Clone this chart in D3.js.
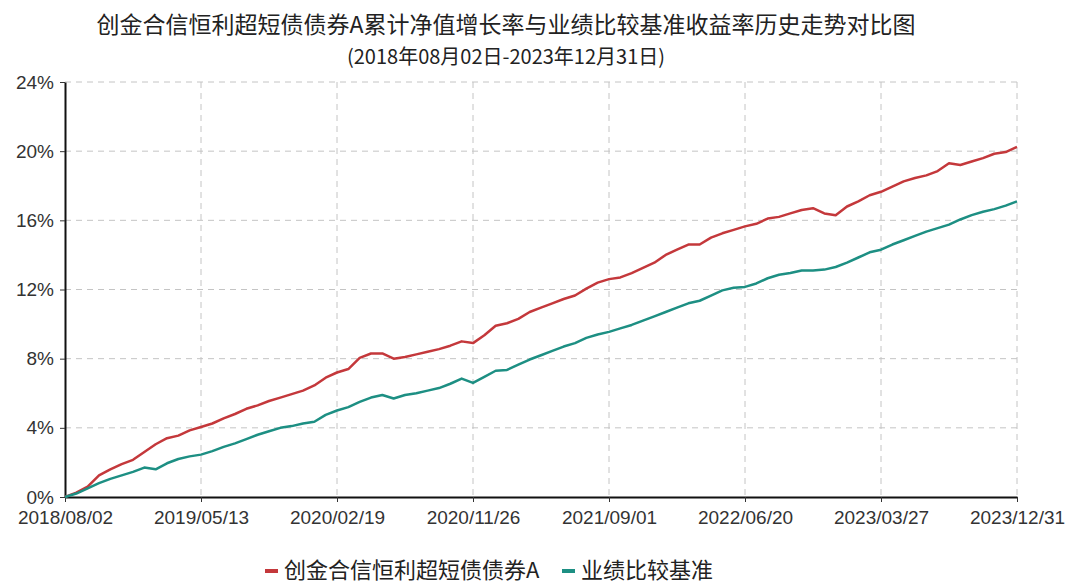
<!DOCTYPE html>
<html>
<head>
<meta charset="utf-8">
<script src="https://cdn.jsdelivr.net/npm/d3@7"></script>
<style>
  body { margin: 0; background: #fff; }
  text { font-family: "Liberation Sans", Arial, sans-serif; }
  .cjk { font-family: "Noto Sans CJK SC", sans-serif; }
</style>
</head>
<body>
<div class="canvas"></div>
<script>
// sample dates (roughly evenly spaced trading days)
const dates = [
  '2018/08/02','2018/08/24','2018/09/18','2018/10/12','2018/11/05','2018/11/28','2018/12/21','2019/01/15','2019/02/11','2019/03/04','2019/03/27','2019/04/19',
  '2019/05/13','2019/06/05','2019/06/28','2019/07/22','2019/08/14','2019/09/06','2019/09/30','2019/10/23','2019/11/15','2019/12/09','2020/01/02','2020/01/23',
  '2020/02/19','2020/03/13','2020/04/07','2020/04/30','2020/05/25','2020/06/17','2020/07/10','2020/08/03','2020/08/26','2020/09/18','2020/10/12','2020/11/03',
  '2020/11/26','2020/12/18','2021/01/11','2021/02/03','2021/02/26','2021/03/22','2021/04/14','2021/05/07','2021/05/31','2021/06/23','2021/07/16','2021/08/09',
  '2021/09/01','2021/09/24','2021/10/20','2021/11/12','2021/12/07','2021/12/31','2022/01/24','2022/02/17','2022/03/14','2022/04/07','2022/05/05','2022/05/26',
  '2022/06/20','2022/07/13','2022/08/05','2022/08/29','2022/09/21','2022/10/14','2022/11/07','2022/11/30','2022/12/23','2023/01/16','2023/02/08','2023/03/03',
  '2023/03/27','2023/04/19','2023/05/12','2023/06/05','2023/06/28','2023/07/21','2023/08/14','2023/09/06','2023/09/28','2023/10/23','2023/11/15','2023/12/07',
  '2023/12/31'
];

// cumulative NAV growth of the fund (%)
const fund = [
  0.00, 0.25, 0.60, 1.25, 1.60, 1.90, 2.15, 2.60, 3.05, 3.40, 3.55, 3.85,
  4.05, 4.25, 4.55, 4.80, 5.10, 5.30, 5.55, 5.75, 5.95, 6.15, 6.45, 6.90,
  7.20, 7.40, 8.05, 8.30, 8.30, 8.00, 8.10, 8.25, 8.40, 8.55, 8.75, 9.00,
  8.90, 9.35, 9.90, 10.05, 10.30, 10.70, 10.95, 11.20, 11.45, 11.65, 12.05, 12.40,
  12.60, 12.70, 12.95, 13.25, 13.55, 14.00, 14.30, 14.60, 14.60, 15.00, 15.25, 15.45,
  15.65, 15.80, 16.10, 16.20, 16.40, 16.60, 16.70, 16.40, 16.30, 16.80, 17.10, 17.45,
  17.65, 17.95, 18.25, 18.45, 18.60, 18.85, 19.30, 19.20, 19.40, 19.60, 19.85, 19.95,
  20.25
];

// benchmark return (%)
const bench = [
  0.00, 0.20, 0.50, 0.80, 1.05, 1.25, 1.45, 1.70, 1.60, 1.95, 2.20, 2.35,
  2.45, 2.65, 2.90, 3.10, 3.35, 3.60, 3.80, 4.00, 4.10, 4.25, 4.35, 4.75,
  5.00, 5.20, 5.50, 5.75, 5.90, 5.70, 5.90, 6.00, 6.15, 6.30, 6.55, 6.85,
  6.60, 6.95, 7.30, 7.35, 7.65, 7.95, 8.20, 8.45, 8.70, 8.90, 9.20, 9.40,
  9.55, 9.75, 9.95, 10.20, 10.45, 10.70, 10.95, 11.20, 11.35, 11.65, 11.95, 12.10,
  12.15, 12.35, 12.65, 12.85, 12.95, 13.10, 13.10, 13.15, 13.30, 13.55, 13.85, 14.15,
  14.30, 14.60, 14.85, 15.10, 15.35, 15.55, 15.75, 16.05, 16.30, 16.50, 16.65, 16.85,
  17.10
];

const xTicks = ['2018/08/02','2019/05/13','2020/02/19','2020/11/26','2021/09/01','2022/06/20','2023/03/27','2023/12/31'];
const yTicks = [0, 4, 8, 12, 16, 20, 24];

const title = '创金合信恒利超短债债券A累计净值增长率与业绩比较基准收益率历史走势对比图';
const subtitle = '(2018年08月02日-2023年12月31日)';
const seriesNames = ['创金合信恒利超短债债券A', '业绩比较基准'];
const colors = ['#c4383b', '#1d8f83'];

const width = 1069, height = 586;
const margin = { top: 82, right: 52, bottom: 89, left: 65 };
const graphWidth = width - margin.left - margin.right;
const graphHeight = height - margin.top - margin.bottom;

const svg = d3.select('.canvas')
    .append('svg')
    .attr('width', width)
    .attr('height', height);

const graph = svg.append('g')
    .attr('transform', `translate(${margin.left}, ${margin.top})`);

const x = d3.scalePoint()
    .domain(dates)
    .range([0, graphWidth]);

const y = d3.scaleLinear()
    .domain([0, 24])
    .range([graphHeight, 0]);

// grid
graph.append('g')
    .selectAll('line')
    .data(yTicks.slice(1))
    .enter().append('line')
    .attr('x1', 0).attr('x2', graphWidth)
    .attr('y1', d => y(d)).attr('y2', d => y(d))
    .attr('stroke', '#c4c4c4')
    .attr('stroke-dasharray', '6,5');

graph.append('g')
    .selectAll('line')
    .data(xTicks.slice(1))
    .enter().append('line')
    .attr('x1', d => x(d)).attr('x2', d => x(d))
    .attr('y1', 0).attr('y2', graphHeight)
    .attr('stroke', '#c4c4c4')
    .attr('stroke-dasharray', '6,5');

// axes
const xAxis = d3.axisBottom(x).tickValues(xTicks).tickSize(5).tickSizeOuter(0);
const yAxis = d3.axisLeft(y).tickValues(yTicks).tickSize(5).tickSizeOuter(0)
    .tickFormat(d => d + '%');

const xAxisGroup = graph.append('g')
    .attr('transform', `translate(0, ${graphHeight})`)
    .call(xAxis);
const yAxisGroup = graph.append('g').call(yAxis);

[xAxisGroup, yAxisGroup].forEach(g => {
    g.select('.domain').attr('stroke', '#111').attr('stroke-width', 2);
    g.selectAll('.tick line').attr('stroke', '#333');
    g.selectAll('.tick text')
        .attr('fill', '#333')
        .style('font-size', '19px')
        .style('font-family', '"Liberation Sans", Arial, sans-serif');
});
xAxisGroup.selectAll('.tick text').attr('dy', '1.0em');
yAxisGroup.selectAll('.tick text').attr('x', -11);

// lines
const line = d3.line()
    .x((d, i) => x(dates[i]))
    .y(d => y(d));

[fund, bench].forEach((s, k) => {
    graph.append('path')
        .datum(s)
        .attr('fill', 'none')
        .attr('stroke', colors[k])
        .attr('stroke-width', 2.5)
        .attr('stroke-linejoin', 'round')
        .attr('d', line);
});

// titles
svg.append('text')
    .attr('class', 'cjk')
    .attr('x', 506).attr('y', 33)
    .attr('text-anchor', 'middle')
    .attr('fill', '#222')
    .style('font-size', '23px')
    .text(title);

svg.append('text')
    .attr('class', 'cjk')
    .attr('x', 506).attr('y', 64)
    .attr('text-anchor', 'middle')
    .attr('fill', '#222')
    .style('font-size', '20px')
    .text(subtitle);

// legend
const legend = svg.append('g').attr('transform', 'translate(265, 571)');
const legendX = [0, 297];
seriesNames.forEach((name, k) => {
    legend.append('rect')
        .attr('x', legendX[k]).attr('y', -2)
        .attr('width', 13).attr('height', 4)
        .attr('fill', colors[k]);
    legend.append('text')
        .attr('class', 'cjk')
        .attr('x', legendX[k] + 19).attr('y', 7)
        .attr('fill', '#222')
        .style('font-size', '22px')
        .text(name);
});
</script>
</body>
</html>
